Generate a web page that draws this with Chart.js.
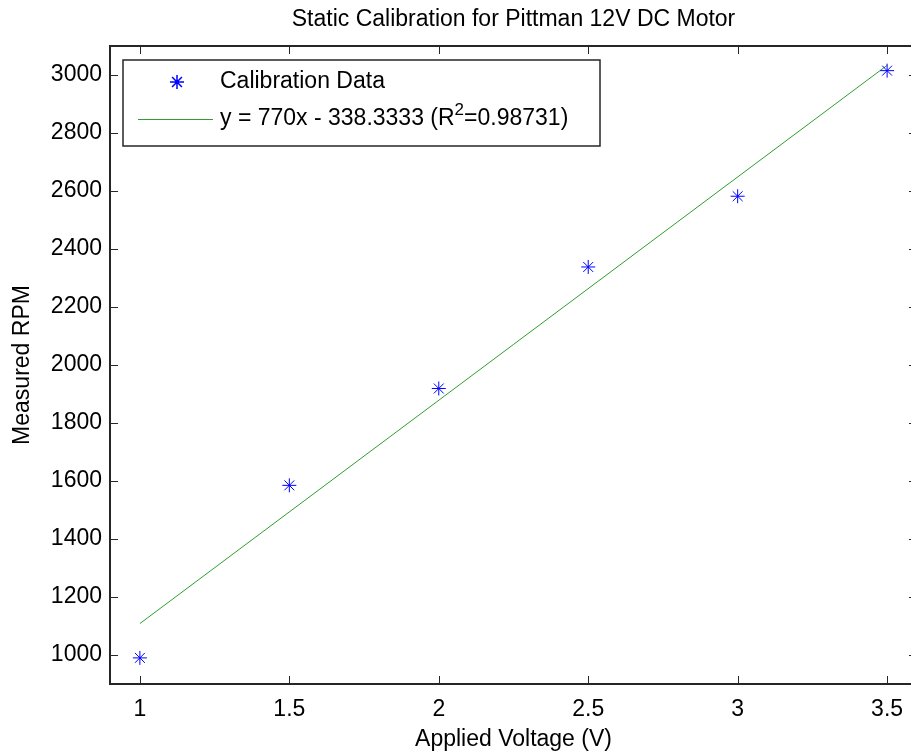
<!DOCTYPE html>
<html lang="en">
<head>
  <meta charset="UTF-8">
  <title>Static Calibration for Pittman 12V DC Motor</title>
  <script src="https://cdn.jsdelivr.net/npm/chart.js"></script>
  <style>
    html, body { margin: 0; padding: 0; overflow: hidden; background: #fff; }
    #wrap { position: absolute; left: 0; top: 0; }
  </style>
</head>
<body>
  <div id="wrap"><canvas id="myChart" width="925" height="753"></canvas></div>

  <script>
    // measured points
    const voltage = [1, 1.5, 2, 2.5, 3, 3.5];
    const rpm = [990, 1585, 1919, 2338, 2582, 3015];

    // fitted line as it was plotted (end points)
    const fitVoltage = [1, 3.5];
    const fitRpm = [1108.33, 3033.33];

    // axes
    const xTicks = [1, 1.5, 2, 2.5, 3, 3.5];
    const yTicks = [1000, 1200, 1400, 1600, 1800, 2000, 2200, 2400, 2600, 2800, 3000];
    const xRange = [0.9, 3.6];
    const yRange = [900, 3100];

    const titleText = 'Static Calibration for Pittman 12V DC Motor';
    const xTitle = 'Applied Voltage (V)';
    const yTitle = 'Measured RPM';
    const legendLabels = ['Calibration Data', 'y = 770x - 338.3333 (R^2=0.98731)'];

    const FONT = '"Liberation Sans", Arial, sans-serif';
    const FS = 23;
    const BLUE = '#0000ff';
    const GREEN = '#2e9e2e';
    const INK = '#262626';

    // frame, inward ticks, titles and legend (matlab look)
    const matlabDecor = {
      id: 'matlabDecor',
      afterDraw(chart) {
        const { ctx, chartArea: a, scales: { x, y } } = chart;
        const tl = 8;
        ctx.save();
        ctx.strokeStyle = INK;
        ctx.lineWidth = 1;
        x.ticks.forEach(t => {
          const px = Math.round(x.getPixelForValue(t.value)) + 0.5;
          ctx.beginPath();
          ctx.moveTo(px, a.bottom); ctx.lineTo(px, a.bottom - tl);
          ctx.moveTo(px, a.top); ctx.lineTo(px, a.top + tl);
          ctx.stroke();
        });
        y.ticks.forEach(t => {
          const py = Math.round(y.getPixelForValue(t.value)) + 0.5;
          ctx.beginPath();
          ctx.moveTo(a.left, py); ctx.lineTo(a.left + tl, py);
          ctx.moveTo(a.right, py); ctx.lineTo(a.right - tl, py);
          ctx.stroke();
        });
        ctx.lineWidth = 2;
        ctx.strokeRect(a.left, a.top, a.right - a.left, a.bottom - a.top);

        // titles
        const cx = (a.left + a.right) / 2;
        ctx.fillStyle = '#000';
        ctx.font = FS + 'px ' + FONT;
        ctx.textAlign = 'center';
        ctx.textBaseline = 'middle';
        ctx.fillText(titleText, cx, 20);
        ctx.fillText(xTitle, cx, 740);
        ctx.save();
        ctx.translate(23, (a.top + a.bottom) / 2);
        ctx.rotate(-Math.PI / 2);
        ctx.fillText(yTitle, 0, 0);
        ctx.restore();

        // legend
        const box = { l: 123, t: 60, r: 600, b: 146 };
        ctx.fillStyle = '#fff';
        ctx.fillRect(box.l, box.t, box.r - box.l, box.b - box.t);
        ctx.lineWidth = 1.5;
        ctx.strokeStyle = INK;
        ctx.strokeRect(box.l, box.t, box.r - box.l, box.b - box.t);
        const rows = [82, 119];
        const ds0 = chart.data.datasets[0];
        ctx.strokeStyle = BLUE;
        ctx.fillStyle = BLUE;
        Chart.helpers.drawPoint(ctx, {
          pointStyle: ds0.pointStyle, radius: ds0.pointRadius,
          borderWidth: ds0.borderWidth, rotation: 0
        }, 177, rows[0]);
        ctx.strokeStyle = GREEN;
        ctx.lineWidth = 1;
        ctx.beginPath();
        ctx.moveTo(138, rows[1] + 0.5); ctx.lineTo(213, rows[1] + 0.5);
        ctx.stroke();

        ctx.fillStyle = '#000';
        ctx.textAlign = 'left';
        ctx.textBaseline = 'middle';
        ctx.font = FS + 'px ' + FONT;
        ctx.fillText(legendLabels[0], 220, rows[0]);
        // second label with superscript
        const [before, rest] = legendLabels[1].split('^');
        const sup = rest.charAt(0), after = rest.slice(1);
        let tx = 220;
        ctx.fillText(before, tx, rows[1]);
        tx += ctx.measureText(before).width;
        ctx.font = Math.round(FS * 0.72) + 'px ' + FONT;
        ctx.fillText(sup, tx, rows[1] - 9);
        tx += ctx.measureText(sup).width;
        ctx.font = FS + 'px ' + FONT;
        ctx.fillText(after, tx, rows[1]);
        ctx.restore();
      }
    };

    const ctx = document.getElementById('myChart').getContext('2d');
    new Chart(ctx, {
      type: 'scatter',
      data: {
        datasets: [
          {
            label: legendLabels[0],
            data: voltage.map((v, i) => ({ x: v, y: rpm[i] })),
            pointStyle: 'star',
            pointRadius: 7,
            borderWidth: 1,
            borderColor: BLUE,
            backgroundColor: BLUE,
            order: 1
          },
          {
            type: 'line',
            label: legendLabels[1],
            data: fitVoltage.map((v, i) => ({ x: v, y: fitRpm[i] })),
            borderColor: GREEN,
            borderWidth: 1,
            pointRadius: 0,
            fill: false,
            order: 2
          }
        ]
      },
      options: {
        responsive: false,
        animation: false,
        layout: { padding: { top: 46, right: 8, bottom: 0, left: 0 } },
        plugins: { legend: { display: false }, title: { display: false }, tooltip: { enabled: false } },
        scales: {
          x: {
            type: 'linear',
            min: xRange[0], max: xRange[1],
            afterBuildTicks: s => { s.ticks = xTicks.map(v => ({ value: v })); },
            afterFit: s => { s.height = 69; },
            grid: { display: false, drawTicks: false },
            border: { display: false },
            ticks: { padding: 12, color: '#000', font: { family: FONT, size: FS }, callback: v => String(v) }
          },
          y: {
            type: 'linear',
            min: yRange[0], max: yRange[1],
            afterBuildTicks: s => { s.ticks = yTicks.map(v => ({ value: v })); },
            afterFit: s => { s.width = 110; },
            grid: { display: false, drawTicks: false },
            border: { display: false },
            ticks: { padding: 8, color: '#000', font: { family: FONT, size: FS }, callback: v => String(v) }
          }
        }
      },
      plugins: [matlabDecor]
    });
  </script>
</body>
</html>
